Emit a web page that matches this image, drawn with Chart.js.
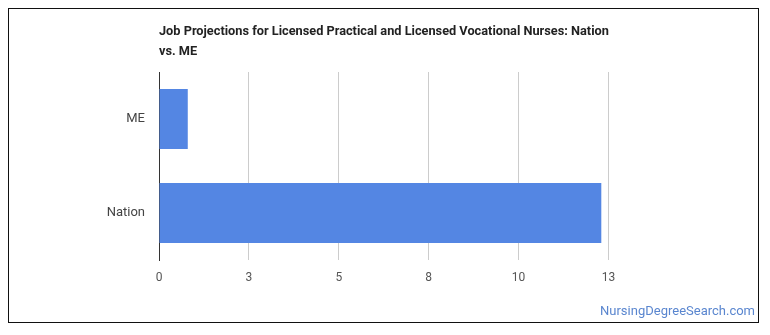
<!DOCTYPE html>
<html>
<head>
<meta charset="utf-8">
<script src="https://cdn.jsdelivr.net/npm/chart.js@4/dist/chart.umd.min.js"></script>
<style>
  html, body { margin: 0; padding: 0; background: #fff; }
  #wrap { position: relative; width: 770px; height: 335px; }
  #frame { position: absolute; left: 8px; top: 8px; width: 749px; height: 313px; border: 1.5px solid #111; box-sizing: content-box; pointer-events: none; }
  canvas { position: absolute; left: 0; top: 0; }
</style>
</head>
<body>
<div id="wrap">
  <canvas id="chart" width="770" height="335"></canvas>
  <div id="frame"></div>
</div>
<script>
// Job growth projections (percent), one bar per region
const categories = ['ME', 'Nation'];
const projections = [0.8, 12.3];
const tickLabels = ['0', '3', '5', '8', '10', '13'];
const titleLines = ['Job Projections for Licensed Practical and Licensed Vocational Nurses: Nation', 'vs. ME'];
const siteName = 'NursingDegreeSearch.com';

// Title and site name drawn onto the canvas
const textPlugin = {
  id: 'textPlugin',
  afterDraw(chart) {
    const ctx = chart.ctx;
    ctx.save();
    ctx.fillStyle = '#222';
    ctx.font = 'bold 12.75px Roboto';
    ctx.textAlign = 'left';
    ctx.textBaseline = 'middle';
    titleLines.forEach((line, i) => ctx.fillText(line, 159, 32 + i * 20));
    ctx.fillStyle = '#5a86cf';
    ctx.font = '13px Roboto';
    ctx.textAlign = 'right';
    ctx.fillText(siteName, 755, 312);
    ctx.restore();
  }
};

new Chart(document.getElementById('chart'), {
  type: 'bar',
  data: {
    labels: categories,
    datasets: [{
      data: projections,
      backgroundColor: '#5486e3',
      borderWidth: 0,
      categoryPercentage: 0.64,
      barPercentage: 1.0
    }]
  },
  options: {
    indexAxis: 'y',
    responsive: false,
    animation: false,
    layout: { padding: { top: 72, right: 161.5, bottom: 45, left: 0 } },
    plugins: { legend: { display: false }, tooltip: { enabled: false }, title: { display: false } },
    scales: {
      x: {
        min: 0,
        max: 12.5,
        ticks: {
          stepSize: 2.5,
          padding: 11,
          color: '#555',
          font: { family: 'Roboto', size: 12 },
          callback: (v, i) => tickLabels[i]
        },
        grid: { color: '#cccccc', drawTicks: false },
        border: { display: false },
        afterFit: s => { s.height = 30; }
      },
      y: {
        ticks: {
          padding: 14,
          color: '#444',
          font: { family: 'Roboto', size: 13 }
        },
        grid: { display: false, drawTicks: false },
        border: { display: true, color: '#333', width: 1 },
        afterFit: s => { s.width = 159; }
      }
    }
  },
  plugins: [textPlugin]
});
</script>
</body>
</html>
